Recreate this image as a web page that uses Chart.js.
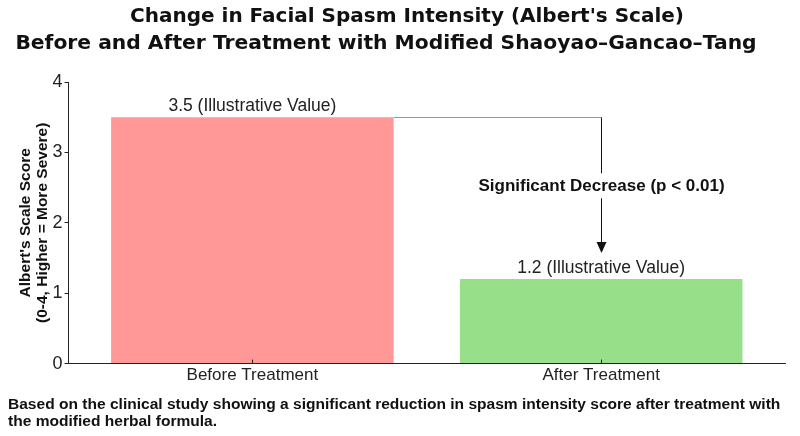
<!DOCTYPE html>
<html><head><meta charset="utf-8">
<script src="https://cdn.jsdelivr.net/npm/chart.js@4.4.0/dist/chart.umd.min.js"></script>
<style>html,body{margin:0;padding:0;background:#fff}#wrap{width:800px;height:436px;position:relative}</style>
</head><body><div id="wrap"><canvas id="c"></canvas></div>
<script>
const categories = ['Before Treatment', 'After Treatment'];
const scores = [3.5, 1.2];
const valueLabels = ['3.5 (Illustrative Value)', '1.2 (Illustrative Value)'];
const barColors = ['#ff9896', '#98df8a'];
const yMin = 0, yMax = 4, yStep = 1;
const titleLines = ["Change in Facial Spasm Intensity (Albert's Scale)", "Before and After Treatment with Modified Shaoyao–Gancao–Tang"];
const yAxisTitle = ["Albert's Scale Score", "(0-4, Higher = More Severe)"];
const annotationText = 'Significant Decrease (p < 0.01)';
const arrowTipValue = 1.57;
const captionLines = ['Based on the clinical study showing a significant reduction in spasm intensity score after treatment with', 'the modified herbal formula.'];

const SANS = "'Liberation Sans', Arial, sans-serif";
const DEJAVU = "'DejaVu Sans', sans-serif";
const X_MARGIN = 0.527;

const overlay = {
  id: 'overlay',
  afterDatasetsDraw(chart) {
    const ctx = chart.ctx;
    const x = chart.scales.x, y = chart.scales.y;
    const meta = chart.getDatasetMeta(0);
    ctx.save();
    // value labels
    ctx.fillStyle = '#222';
    ctx.font = '17.5px ' + SANS;
    ctx.textAlign = 'center';
    ctx.textBaseline = 'alphabetic';
    scores.forEach((v, i) => {
      ctx.fillText(valueLabels[i], x.getPixelForValue(i), y.getPixelForValue(v) - 6);
    });
    // x tick marks (inward)
    ctx.strokeStyle = '#222';
    ctx.lineWidth = 1;
    categories.forEach((c, i) => {
      const px = Math.round(x.getPixelForValue(i)) + 0.5;
      ctx.beginPath();
      ctx.moveTo(px, y.bottom);
      ctx.lineTo(px, y.bottom - 4);
      ctx.stroke();
    });
    // annotation
    const bar0 = meta.data[0];
    const xStart = bar0.x + bar0.width / 2;
    const xEnd = Math.round(x.getPixelForValue(1)) + 0.5;
    const yTop = Math.round(y.getPixelForValue(scores[0])) + 0.5;
    const yTip = y.getPixelForValue(arrowTipValue);
    const yText = (yTop + yTip) / 2 + 1;
    ctx.strokeStyle = '#999';
    ctx.beginPath();
    ctx.moveTo(xStart, yTop);
    ctx.lineTo(xEnd, yTop);
    ctx.stroke();
    ctx.strokeStyle = '#111';
    ctx.beginPath();
    ctx.moveTo(xEnd, yTop);
    ctx.lineTo(xEnd, yText - 13);
    ctx.moveTo(xEnd, yText + 12);
    ctx.lineTo(xEnd, yTip - 10);
    ctx.stroke();
    ctx.fillStyle = '#111';
    ctx.beginPath();
    ctx.moveTo(xEnd, yTip);
    ctx.lineTo(xEnd - 5, yTip - 11);
    ctx.lineTo(xEnd + 5, yTip - 11);
    ctx.closePath();
    ctx.fill();
    ctx.font = 'bold 17px ' + SANS;
    ctx.textBaseline = 'middle';
    ctx.fillText(annotationText, xEnd, yText);
    ctx.restore();
  },
  afterDraw(chart) {
    const ctx = chart.ctx;
    ctx.save();
    ctx.fillStyle = '#111';
    ctx.textAlign = 'center';
    ctx.textBaseline = 'middle';
    ctx.font = 'bold 20px ' + DEJAVU;
    ctx.fillText(titleLines[0], 407, 17);
    ctx.font = 'bold 20.3px ' + DEJAVU;
    ctx.fillText(titleLines[1], 386, 44);
    ctx.textAlign = 'left';
    ctx.font = 'bold 15.55px ' + SANS;
    ctx.fillText(captionLines[0], 8, 405);
    ctx.fillText(captionLines[1], 8, 422);
    ctx.restore();
  }
};

new Chart(document.getElementById('c'), {
  type: 'bar',
  data: {
    datasets: [{
      data: scores.map((v, i) => ({ x: i, y: v })),
      backgroundColor: barColors,
      borderWidth: 0,
      barPercentage: 0.81,
      categoryPercentage: 1.0
    }]
  },
  options: {
    responsive: true,
    maintainAspectRatio: false,
    animation: false,
    events: [],
    layout: { padding: { top: 82, left: 18, right: 15, bottom: 48 } },
    plugins: { legend: { display: false }, tooltip: { enabled: false }, title: { display: false } },
    scales: {
      x: {
        type: 'linear',
        offset: false,
        min: -X_MARGIN,
        max: categories.length - 1 + X_MARGIN,
        afterBuildTicks: (scale) => { scale.ticks = categories.map((c, i) => ({ value: i })); },
        grid: { display: false, drawTicks: false, offset: false },
        border: { display: true, color: '#222', width: 1 },
        ticks: { color: '#222', font: { family: SANS, size: 17 }, padding: 2, autoSkip: false, maxRotation: 0,
                 callback: (v) => categories[v] }
      },
      y: {
        min: yMin, max: yMax,
        grid: { drawOnChartArea: false, drawTicks: true, tickLength: 4, color: '#222' },
        border: { display: true, color: '#222', width: 1 },
        ticks: { stepSize: yStep, color: '#222', font: { family: SANS, size: 18 }, padding: 2 },
        title: { display: true, text: yAxisTitle, color: '#111', font: { family: SANS, size: 15.5, weight: 'bold', lineHeight: 1.05 }, padding: { top: 0, bottom: 0 } }
      }
    }
  },
  plugins: [overlay]
});
</script>
</body></html>
